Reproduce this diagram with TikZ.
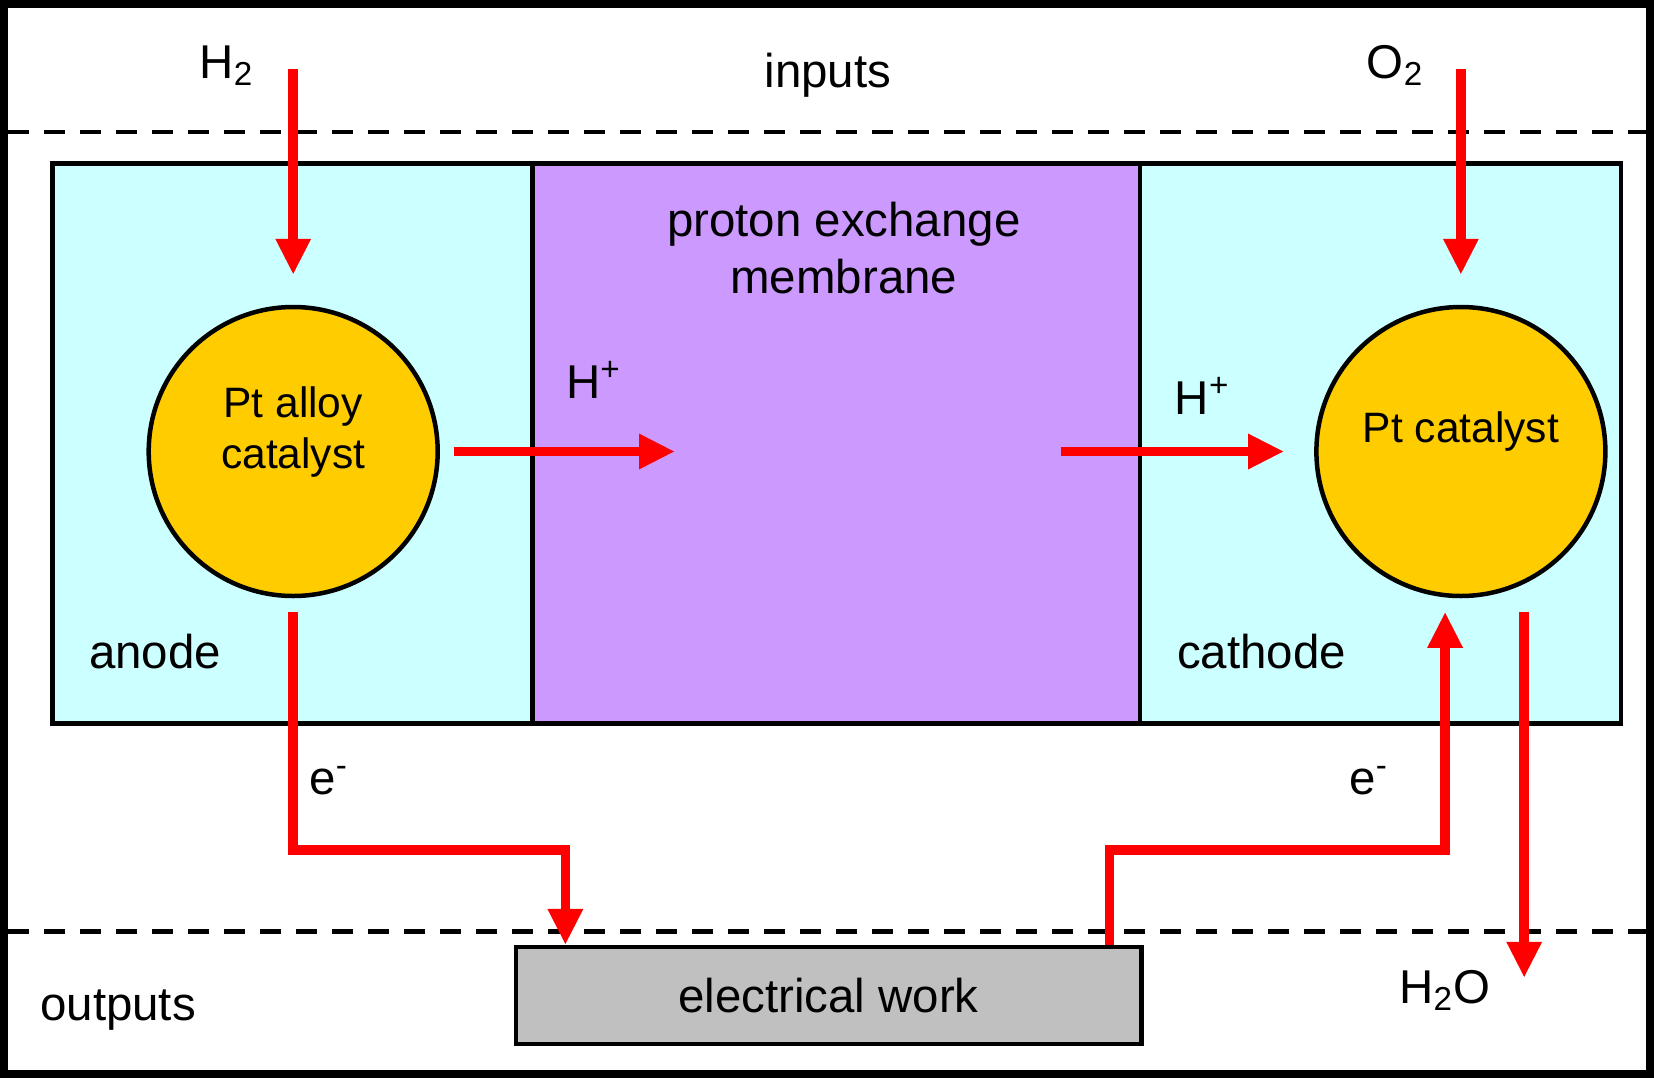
\documentclass[tikz,border=0pt]{standalone}
\usepackage{fontspec}
\setmainfont{Liberation Sans}
\usetikzlibrary{arrows.meta}
\definecolor{anodecyan}{HTML}{CCFFFF}
\definecolor{pemviolet}{HTML}{CC99FF}
\definecolor{catyellow}{HTML}{FFCC00}
\definecolor{workgray}{HTML}{C0C0C0}

\begin{document}
\begin{tikzpicture}[x=0.1mm,y=-0.1mm,
  font=\fontsize{13.5}{16.2}\selectfont,
  flow/.style={draw=red,line width=0.95mm,-{Triangle[width=3.3mm,length=3.6mm]}},
  region/.style={draw,line width=0.45mm,minimum height=56mm,inner sep=0pt},
  catalyst/.style={circle,draw,line width=0.45mm,fill=catyellow,minimum size=28.9mm,inner sep=0pt},
  cattext/.style={font=\fontsize{12.1}{14.6}\selectfont,align=center},
  divider/.style={dash pattern=on 2.1mm off 1.5mm,line width=0.45mm}]
 \useasboundingbox (0,0) rectangle (1654,1078);
 \draw[line width=0.8mm] (4,4) rectangle (1650,1074);
 \draw[divider] (8,132) -- (1646,132);
 \draw[divider] (8,931.4) -- (1646,931.4);
 \node[region,fill=anodecyan,minimum width=48mm] (anode) at (292.7,443.55) {};
 \node[region,fill=pemviolet,minimum width=60.75mm] (pem) at (836.45,443.55) {};
 \node[region,fill=anodecyan,minimum width=48.1mm] (cathode) at (1380.7,443.55) {};
 \node[catalyst] (anodecat) at (293.2,451.5) {};
 \node[catalyst] (cathcat) at (1460.9,451.5) {};
 \node[cattext] (anodecattext) at (293.2,432) {Pt alloy\\catalyst};
 \node[cattext] (cathcattext) at (1460.9,431) {Pt catalyst};
 \node[draw,fill=workgray,line width=0.45mm,minimum width=62.55mm,minimum height=9.7mm,inner sep=0pt] (ework) at (828.5,995.7) {electrical work};
 \node (inputs) at (828,75) {inputs};
 \node (outputs) at (118.1,1010) {outputs};
 \node (h2) at (226.8,65.5) {H\textsubscript{2}};
 \node (o2) at (1395.5,65.5) {O\textsubscript{2}};
 \node[align=center] (pemlabel) at (843.8,248) {proton exchange\\membrane};
 \node (hpleft) at (593.9,379.7) {H\textsuperscript{+}};
 \node (hpright) at (1202.5,395.6) {H\textsuperscript{+}};
 \node (anodelabel) at (155,651.9) {anode};
 \node (cathodelabel) at (1261.5,651.9) {cathode};
 \node (eleftlabel) at (329,780.6) {e\textsuperscript{-}};
 \node (erightlabel) at (1369,780.6) {e\textsuperscript{-}};
 \node (h2o) at (1445.1,990.5) {H\textsubscript{2}O};
 \coordinate (h2src) at (293.2,68.6);
 \coordinate (o2src) at (1460.9,68.6);
 \coordinate (hpmid) at (675,451.5);
 \coordinate (hpsrc) at (1061.1,451.5);
 \coordinate (eleft) at (565.4,850.2);
 \coordinate (eright) at (1109.6,850.2);
 \coordinate (eup) at (1445.1,611.8);
 \coordinate (h2osrc) at (1524.2,611.8);
 \coordinate (h2odst) at (1524.2,977.8);
 \draw[flow,shorten >=3mm] (h2src) -- (anodecat.north);
 \draw[flow,shorten >=3mm] (o2src) -- (cathcat.north);
 \draw[flow,shorten <=1.4mm] (anodecat.east) -- (hpmid);
 \draw[flow,shorten >=3mm] (hpsrc) -- (cathcat.west);
 \draw[flow,shorten <=1.4mm] (anodecat.south) |- (eleft) -- (eleft |- ework.north);
 \draw[flow] (eright |- ework.north) -- (eright) -| (eup);
 \draw[flow] (h2osrc) -- (h2odst);
\end{tikzpicture}
\end{document}
